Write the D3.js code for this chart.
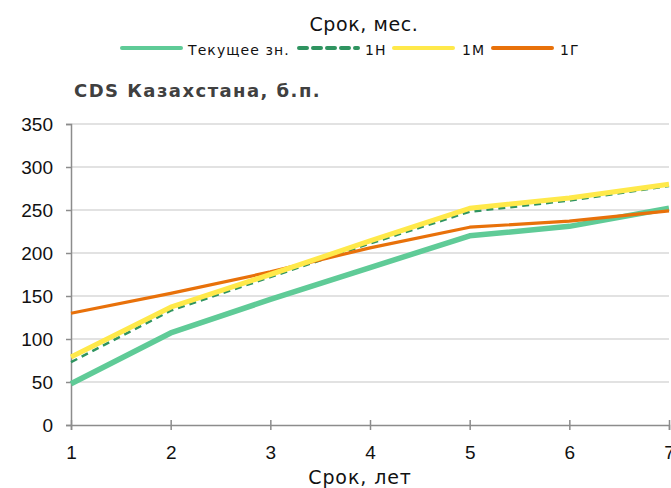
<!DOCTYPE html>
<html>
<head>
<meta charset="utf-8">
<script src="https://cdn.jsdelivr.net/npm/d3@7.9.0/dist/d3.min.js"></script>
<style>
  body { margin: 0; background: #fff; }
  svg { display: block; font-family: "DejaVu Sans", Verdana, sans-serif; }
</style>
</head>
<body>
<svg width="671" height="488"></svg>
<script>
const terms = [1, 2, 3, 4, 5, 6, 7];
const current = [48, 107, 146, 183, 220, 231, 252];
const week = [73, 133, 172, 211, 248, 261, 278];
const month = [79, 137, 175, 214, 252, 264, 280];
const year = [130, 153, 178, 206, 230, 237, 249];
const yTicks = [0, 50, 100, 150, 200, 250, 300, 350];

const series = [
    { name: 'Текущее зн.', values: current, color: '#5fcb97', width: 5.5, dash: null },
    { name: '1Н', values: week, color: '#2f9460', width: 2.5, dash: '7,5' },
    { name: '1Г', values: year, color: '#e8710a', width: 3.2, dash: null },
    { name: '1М', values: month, color: '#ffe94a', width: 5, dash: null },
];
const legendOrder = ['Текущее зн.', '1Н', '1М', '1Г'];

const svg = d3.select('svg');
const x = d3.scaleLinear().domain([1, 7]).range([71, 669]);
const y = d3.scaleLinear().domain([0, 350]).range([425, 124]);

// grid
svg.append('g')
   .selectAll('line')
   .data(yTicks.slice(1))
   .join('line')
   .attr('x1', 71).attr('x2', 669)
   .attr('y1', (d) => y(d)).attr('y2', (d) => y(d))
   .attr('stroke', '#d9d9d9').attr('stroke-width', 1.3);

// axes
let yAxis = svg.append('g')
   .attr('transform', 'translate(71,0)')
   .call(d3.axisLeft(y).tickValues(yTicks).tickSize(5).tickPadding(13));
yAxis.select('.domain').attr('stroke', '#8c8c8c').attr('stroke-width', 1.5);
yAxis.selectAll('.tick line').attr('stroke', '#8c8c8c').attr('stroke-width', 1.5);
yAxis.selectAll('text').attr('font-size', 19).attr('fill', '#111').attr('dy', '0.36em');

let xAxis = svg.append('g')
   .attr('transform', `translate(0,${y(0)})`)
   .call(d3.axisBottom(x).tickValues(terms).tickFormat(d3.format('d')).tickSize(5).tickPadding(16));
xAxis.select('.domain').attr('stroke', '#8c8c8c').attr('stroke-width', 1.5);
xAxis.selectAll('.tick line').attr('stroke', '#8c8c8c').attr('stroke-width', 1.5).attr('y1', -5);
xAxis.selectAll('text').attr('font-size', 19).attr('fill', '#111');

// lines
let line = d3.line().x((d, i) => x(terms[i])).y((d) => y(d));
series.forEach((s) => {
    svg.append('path')
       .attr('d', line(s.values))
       .attr('fill', 'none')
       .attr('stroke', s.color)
       .attr('stroke-width', s.width)
       .attr('stroke-dasharray', s.dash)
       .attr('stroke-linejoin', 'round');
});

// titles
svg.append('text')
   .attr('x', 364).attr('y', 31)
   .attr('text-anchor', 'middle')
   .attr('font-size', 19).attr('fill', '#111')
   .attr('letter-spacing', 0.6)
   .text('Срок, мес.');

svg.append('text')
   .attr('x', 74).attr('y', 97)
   .attr('font-size', 18).attr('font-weight', 'bold').attr('fill', '#404040')
   .attr('letter-spacing', 1.45)
   .text('CDS Казахстана, б.п.');

svg.append('text')
   .attr('x', 360).attr('y', 484)
   .attr('text-anchor', 'middle')
   .attr('font-size', 19).attr('fill', '#111')
   .attr('letter-spacing', 0.9)
   .text('Срок, лет');

// legend
const legendX = [121, 298, 393, 492];
const legendGap = [67, 67, 69, 68];
const legend = svg.append('g').attr('transform', 'translate(0,48)');
legendOrder.forEach((name, i) => {
    let s = series.find((d) => d.name === name);
    let g = legend.append('g').attr('transform', `translate(${legendX[i]},0)`);
    g.append('line')
     .attr('x1', 1).attr('x2', 60)
     .attr('stroke', s.color)
     .attr('stroke-width', 4)
     .attr('stroke-dasharray', s.dash ? '8,6' : null)
     .attr('stroke-linecap', 'round');
    g.append('text')
     .attr('x', legendGap[i]).attr('y', 7)
     .attr('font-size', 14).attr('fill', '#111')
     .attr('letter-spacing', 1.1)
     .text(name);
});
</script>
</body>
</html>
